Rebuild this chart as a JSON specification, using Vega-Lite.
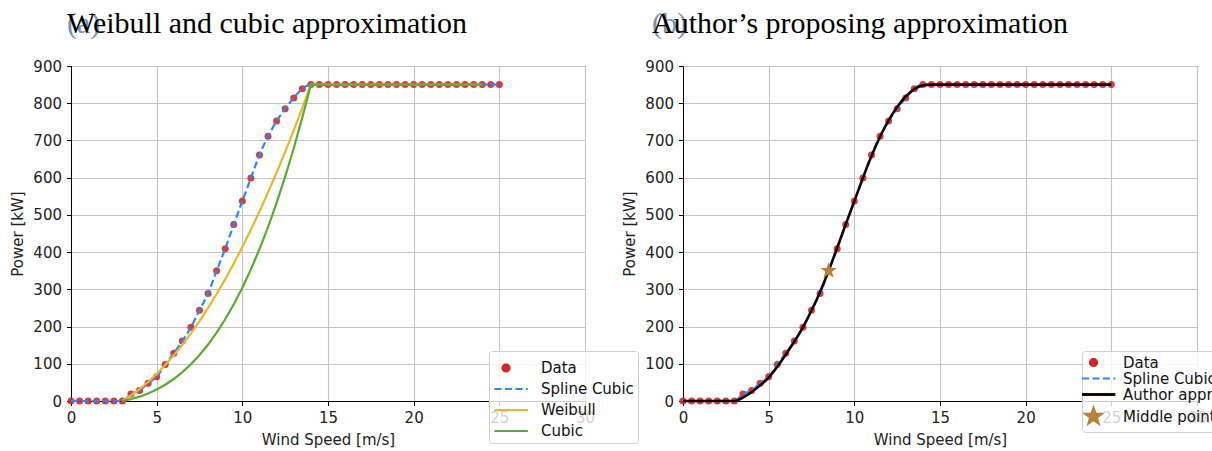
{
  "$schema": "https://vega.github.io/schema/vega-lite/v6.json",
  "background": "white",
  "padding": {"left": 10, "top": 8, "right": 5, "bottom": 5},
  "datasets": {
    "left": [
      {"s": "Data", "v": 0, "p": 0}, {"s": "Data", "v": 0.5, "p": 0}, {"s": "Data", "v": 1, "p": 0}, {"s": "Data", "v": 1.5, "p": 0}, {"s": "Data", "v": 2, "p": 0}, {"s": "Data", "v": 2.5, "p": 0}, {"s": "Data", "v": 3, "p": 0},
      {"s": "Data", "v": 3.5, "p": 19}, {"s": "Data", "v": 4, "p": 28}, {"s": "Data", "v": 4.5, "p": 48}, {"s": "Data", "v": 5, "p": 65}, {"s": "Data", "v": 5.5, "p": 98}, {"s": "Data", "v": 6, "p": 128},
      {"s": "Data", "v": 6.5, "p": 161}, {"s": "Data", "v": 7, "p": 198}, {"s": "Data", "v": 7.5, "p": 244}, {"s": "Data", "v": 8, "p": 289}, {"s": "Data", "v": 8.5, "p": 350}, {"s": "Data", "v": 9, "p": 409},
      {"s": "Data", "v": 9.5, "p": 474}, {"s": "Data", "v": 10, "p": 537}, {"s": "Data", "v": 10.5, "p": 599}, {"s": "Data", "v": 11, "p": 661}, {"s": "Data", "v": 11.5, "p": 711}, {"s": "Data", "v": 12, "p": 752},
      {"s": "Data", "v": 12.5, "p": 785}, {"s": "Data", "v": 13, "p": 814}, {"s": "Data", "v": 13.5, "p": 839}, {"s": "Data", "v": 14, "p": 850}, {"s": "Data", "v": 14.5, "p": 850}, {"s": "Data", "v": 15, "p": 850},
      {"s": "Data", "v": 15.5, "p": 850}, {"s": "Data", "v": 16, "p": 850}, {"s": "Data", "v": 16.5, "p": 850}, {"s": "Data", "v": 17, "p": 850}, {"s": "Data", "v": 17.5, "p": 850}, {"s": "Data", "v": 18, "p": 850},
      {"s": "Data", "v": 18.5, "p": 850}, {"s": "Data", "v": 19, "p": 850}, {"s": "Data", "v": 19.5, "p": 850}, {"s": "Data", "v": 20, "p": 850}, {"s": "Data", "v": 20.5, "p": 850}, {"s": "Data", "v": 21, "p": 850},
      {"s": "Data", "v": 21.5, "p": 850}, {"s": "Data", "v": 22, "p": 850}, {"s": "Data", "v": 22.5, "p": 850}, {"s": "Data", "v": 23, "p": 850}, {"s": "Data", "v": 23.5, "p": 850}, {"s": "Data", "v": 24, "p": 850},
      {"s": "Data", "v": 24.5, "p": 850}, {"s": "Data", "v": 25, "p": 850},
      {"s": "Spline Cubic", "v": 0, "p": 0}, {"s": "Spline Cubic", "v": 3, "p": 0}, {"s": "Spline Cubic", "v": 3.5, "p": 19}, {"s": "Spline Cubic", "v": 4, "p": 28}, {"s": "Spline Cubic", "v": 4.5, "p": 48}, {"s": "Spline Cubic", "v": 5, "p": 65},
      {"s": "Spline Cubic", "v": 5.5, "p": 98}, {"s": "Spline Cubic", "v": 6, "p": 128}, {"s": "Spline Cubic", "v": 6.5, "p": 161}, {"s": "Spline Cubic", "v": 7, "p": 198}, {"s": "Spline Cubic", "v": 7.5, "p": 244}, {"s": "Spline Cubic", "v": 8, "p": 289},
      {"s": "Spline Cubic", "v": 8.5, "p": 350}, {"s": "Spline Cubic", "v": 9, "p": 409}, {"s": "Spline Cubic", "v": 9.5, "p": 474}, {"s": "Spline Cubic", "v": 10, "p": 537}, {"s": "Spline Cubic", "v": 10.5, "p": 599}, {"s": "Spline Cubic", "v": 11, "p": 661},
      {"s": "Spline Cubic", "v": 11.5, "p": 711}, {"s": "Spline Cubic", "v": 12, "p": 752}, {"s": "Spline Cubic", "v": 12.5, "p": 785}, {"s": "Spline Cubic", "v": 13, "p": 814}, {"s": "Spline Cubic", "v": 13.5, "p": 839}, {"s": "Spline Cubic", "v": 14, "p": 850},
      {"s": "Spline Cubic", "v": 14.5, "p": 850}, {"s": "Spline Cubic", "v": 25, "p": 850},
      {"s": "Weibull", "v": 3, "p": 0}, {"s": "Weibull", "v": 3.5, "p": 14.8}, {"s": "Weibull", "v": 4, "p": 31.8}, {"s": "Weibull", "v": 4.5, "p": 51.1}, {"s": "Weibull", "v": 5, "p": 72.7}, {"s": "Weibull", "v": 5.5, "p": 96.6},
      {"s": "Weibull", "v": 6, "p": 122.7}, {"s": "Weibull", "v": 6.5, "p": 151.1}, {"s": "Weibull", "v": 7, "p": 181.8}, {"s": "Weibull", "v": 7.5, "p": 214.8}, {"s": "Weibull", "v": 8, "p": 250}, {"s": "Weibull", "v": 8.5, "p": 287.5},
      {"s": "Weibull", "v": 9, "p": 327.3}, {"s": "Weibull", "v": 9.5, "p": 369.3}, {"s": "Weibull", "v": 10, "p": 413.6}, {"s": "Weibull", "v": 10.5, "p": 460.2}, {"s": "Weibull", "v": 11, "p": 509.1}, {"s": "Weibull", "v": 11.5, "p": 560.2},
      {"s": "Weibull", "v": 12, "p": 613.6}, {"s": "Weibull", "v": 12.5, "p": 669.3}, {"s": "Weibull", "v": 13, "p": 727.3}, {"s": "Weibull", "v": 13.5, "p": 787.5}, {"s": "Weibull", "v": 14, "p": 850}, {"s": "Weibull", "v": 24, "p": 850},
      {"s": "Cubic", "v": 3, "p": 0}, {"s": "Cubic", "v": 3.5, "p": 5.0}, {"s": "Cubic", "v": 4, "p": 11.6}, {"s": "Cubic", "v": 4.5, "p": 20.1}, {"s": "Cubic", "v": 5, "p": 30.7}, {"s": "Cubic", "v": 5.5, "p": 43.6},
      {"s": "Cubic", "v": 6, "p": 59.1}, {"s": "Cubic", "v": 6.5, "p": 77.5}, {"s": "Cubic", "v": 7, "p": 98.9}, {"s": "Cubic", "v": 7.5, "p": 123.5}, {"s": "Cubic", "v": 8, "p": 151.7}, {"s": "Cubic", "v": 8.5, "p": 183.7},
      {"s": "Cubic", "v": 9, "p": 219.6}, {"s": "Cubic", "v": 9.5, "p": 259.8}, {"s": "Cubic", "v": 10, "p": 304.4}, {"s": "Cubic", "v": 10.5, "p": 353.7}, {"s": "Cubic", "v": 11, "p": 407.9}, {"s": "Cubic", "v": 11.5, "p": 467.3},
      {"s": "Cubic", "v": 12, "p": 532.1}, {"s": "Cubic", "v": 12.5, "p": 602.6}, {"s": "Cubic", "v": 13, "p": 678.9}, {"s": "Cubic", "v": 13.5, "p": 761.3}, {"s": "Cubic", "v": 14, "p": 850}, {"s": "Cubic", "v": 24, "p": 850}
    ],
    "right": [
      {"s": "Data", "v": 0, "p": 0}, {"s": "Data", "v": 0.5, "p": 0}, {"s": "Data", "v": 1, "p": 0}, {"s": "Data", "v": 1.5, "p": 0}, {"s": "Data", "v": 2, "p": 0}, {"s": "Data", "v": 2.5, "p": 0}, {"s": "Data", "v": 3, "p": 0},
      {"s": "Data", "v": 3.5, "p": 19}, {"s": "Data", "v": 4, "p": 28}, {"s": "Data", "v": 4.5, "p": 48}, {"s": "Data", "v": 5, "p": 65}, {"s": "Data", "v": 5.5, "p": 98}, {"s": "Data", "v": 6, "p": 128},
      {"s": "Data", "v": 6.5, "p": 161}, {"s": "Data", "v": 7, "p": 198}, {"s": "Data", "v": 7.5, "p": 244}, {"s": "Data", "v": 8, "p": 289}, {"s": "Data", "v": 8.5, "p": 350}, {"s": "Data", "v": 9, "p": 409},
      {"s": "Data", "v": 9.5, "p": 474}, {"s": "Data", "v": 10, "p": 537}, {"s": "Data", "v": 10.5, "p": 599}, {"s": "Data", "v": 11, "p": 661}, {"s": "Data", "v": 11.5, "p": 711}, {"s": "Data", "v": 12, "p": 752},
      {"s": "Data", "v": 12.5, "p": 785}, {"s": "Data", "v": 13, "p": 814}, {"s": "Data", "v": 13.5, "p": 839}, {"s": "Data", "v": 14, "p": 850}, {"s": "Data", "v": 14.5, "p": 850}, {"s": "Data", "v": 15, "p": 850},
      {"s": "Data", "v": 15.5, "p": 850}, {"s": "Data", "v": 16, "p": 850}, {"s": "Data", "v": 16.5, "p": 850}, {"s": "Data", "v": 17, "p": 850}, {"s": "Data", "v": 17.5, "p": 850}, {"s": "Data", "v": 18, "p": 850},
      {"s": "Data", "v": 18.5, "p": 850}, {"s": "Data", "v": 19, "p": 850}, {"s": "Data", "v": 19.5, "p": 850}, {"s": "Data", "v": 20, "p": 850}, {"s": "Data", "v": 20.5, "p": 850}, {"s": "Data", "v": 21, "p": 850},
      {"s": "Data", "v": 21.5, "p": 850}, {"s": "Data", "v": 22, "p": 850}, {"s": "Data", "v": 22.5, "p": 850}, {"s": "Data", "v": 23, "p": 850}, {"s": "Data", "v": 23.5, "p": 850}, {"s": "Data", "v": 24, "p": 850},
      {"s": "Data", "v": 24.5, "p": 850}, {"s": "Data", "v": 25, "p": 850},
      {"s": "Spline Cubic", "v": 0, "p": 0}, {"s": "Spline Cubic", "v": 3, "p": 0}, {"s": "Spline Cubic", "v": 3.5, "p": 19}, {"s": "Spline Cubic", "v": 4, "p": 28}, {"s": "Spline Cubic", "v": 4.5, "p": 48}, {"s": "Spline Cubic", "v": 5, "p": 65},
      {"s": "Spline Cubic", "v": 5.5, "p": 98}, {"s": "Spline Cubic", "v": 6, "p": 128}, {"s": "Spline Cubic", "v": 6.5, "p": 161}, {"s": "Spline Cubic", "v": 7, "p": 198}, {"s": "Spline Cubic", "v": 7.5, "p": 244}, {"s": "Spline Cubic", "v": 8, "p": 289},
      {"s": "Spline Cubic", "v": 8.5, "p": 350}, {"s": "Spline Cubic", "v": 9, "p": 409}, {"s": "Spline Cubic", "v": 9.5, "p": 474}, {"s": "Spline Cubic", "v": 10, "p": 537}, {"s": "Spline Cubic", "v": 10.5, "p": 599}, {"s": "Spline Cubic", "v": 11, "p": 661},
      {"s": "Spline Cubic", "v": 11.5, "p": 711}, {"s": "Spline Cubic", "v": 12, "p": 752}, {"s": "Spline Cubic", "v": 12.5, "p": 785}, {"s": "Spline Cubic", "v": 13, "p": 814}, {"s": "Spline Cubic", "v": 13.5, "p": 839}, {"s": "Spline Cubic", "v": 14, "p": 850},
      {"s": "Spline Cubic", "v": 14.5, "p": 850}, {"s": "Spline Cubic", "v": 25, "p": 850},
      {"s": "Author approx.", "v": 0, "p": 0}, {"s": "Author approx.", "v": 3, "p": 0}, {"s": "Author approx.", "v": 3.5, "p": 9}, {"s": "Author approx.", "v": 4, "p": 24}, {"s": "Author approx.", "v": 4.5, "p": 42}, {"s": "Author approx.", "v": 5, "p": 63},
      {"s": "Author approx.", "v": 5.5, "p": 92}, {"s": "Author approx.", "v": 6, "p": 125}, {"s": "Author approx.", "v": 6.5, "p": 160}, {"s": "Author approx.", "v": 7, "p": 198}, {"s": "Author approx.", "v": 7.5, "p": 243}, {"s": "Author approx.", "v": 8, "p": 293},
      {"s": "Author approx.", "v": 8.5, "p": 350}, {"s": "Author approx.", "v": 9, "p": 412}, {"s": "Author approx.", "v": 9.5, "p": 475}, {"s": "Author approx.", "v": 10, "p": 537}, {"s": "Author approx.", "v": 10.5, "p": 599}, {"s": "Author approx.", "v": 11, "p": 658},
      {"s": "Author approx.", "v": 11.5, "p": 710}, {"s": "Author approx.", "v": 12, "p": 754}, {"s": "Author approx.", "v": 12.5, "p": 790}, {"s": "Author approx.", "v": 13, "p": 818}, {"s": "Author approx.", "v": 13.5, "p": 838}, {"s": "Author approx.", "v": 14, "p": 848},
      {"s": "Author approx.", "v": 14.5, "p": 850}, {"s": "Author approx.", "v": 25, "p": 850},
      {"s": "Middle point", "v": 8.5, "p": 350}
    ]
  },
  "hconcat": [
    {
      "width": 514,
      "height": 335,
      "title": {"text": "(a)", "subtitle": "\u00a0\u00a0\u00a0\u00a0\u00a0\u200aWeibull and cubic approximation", "anchor": "start", "frame": "group", "dx": -4},
      "data": {"name": "left"},
      "layer": [
        {
          "transform": [{"filter": "datum.s === 'Data'"}],
          "mark": {"type": "point", "filled": true, "size": 49, "opacity": 0.9, "color": "#d62728"},
          "encoding": {
            "x": {"field": "v", "type": "quantitative", "scale": {"domain": [0, 30]}, "axis": {"tickCount": 6}, "title": "Wind Speed [m/s]"},
            "y": {"field": "p", "type": "quantitative", "scale": {"domain": [0, 900]}, "axis": {"tickCount": 10}, "title": "Power [kW]"}
          }
        },
        {
          "transform": [{"filter": "datum.s === 'Spline Cubic'"}],
          "mark": {"type": "line", "strokeDash": [7, 3.5], "strokeWidth": 2.2, "interpolate": "monotone"},
          "encoding": {
            "x": {"field": "v", "type": "quantitative"},
            "y": {"field": "p", "type": "quantitative"},
            "color": {
              "field": "s", "type": "nominal",
              "scale": {"domain": ["Data", "Spline Cubic", "Weibull", "Cubic"], "range": ["#d62728", "#2f86f5", "#e8b82a", "#5aab32"]},
              "legend": {
                "orient": "none", "legendX": 418, "legendY": 285, "direction": "vertical", "title": null, "padding": 4,
                "fillColor": "rgba(255,255,255,0.8)", "strokeColor": "#d0d0d0", "cornerRadius": 3,
                "labelFontSize": 15, "labelColor": "#111", "symbolSize": 529, "labelOffset": 22, "rowPadding": 0,
                "encode": {"symbols": {"update": {
                  "shape": {"signal": "datum.value === 'Data' ? 'circle' : 'M-1,0H1.9'"},
                  "size": {"signal": "datum.value === 'Data' ? 49 : 529"},
                  "fill": {"signal": "datum.value === 'Data' ? '#d62728' : 'transparent'"},
                  "stroke": {"signal": "datum.value === 'Data' ? 'transparent' : datum.value === 'Spline Cubic' ? '#2f86f5' : datum.value === 'Weibull' ? '#e8b82a' : '#5aab32'"},
                  "strokeDash": {"signal": "datum.value === 'Spline Cubic' ? [7, 3.5] : [1, 0]"},
                  "strokeWidth": {"value": 2.2},
                  "opacity": {"value": 1}
                }}}
              }
            }
          }
        },
        {
          "transform": [{"filter": "datum.s === 'Weibull' || datum.s === 'Cubic'"}],
          "mark": {"type": "line", "strokeWidth": 2.2},
          "encoding": {
            "x": {"field": "v", "type": "quantitative"},
            "y": {"field": "p", "type": "quantitative"},
            "color": {"field": "s", "type": "nominal"}
          }
        }
      ]
    },
    {
      "width": 514,
      "height": 335,
      "title": {"text": "(b)", "subtitle": "\u00a0\u00a0\u00a0\u00a0\u00a0\u200aAuthor’s proposing approximation", "anchor": "start", "frame": "group", "dx": -31},
      "data": {"name": "right"},
      "layer": [
        {
          "transform": [{"filter": "datum.s === 'Data'"}],
          "mark": {"type": "point", "filled": true, "size": 49, "opacity": 0.9, "color": "#d62728"},
          "encoding": {
            "x": {"field": "v", "type": "quantitative", "scale": {"domain": [0, 30]}, "axis": {"tickCount": 6}, "title": "Wind Speed [m/s]"},
            "y": {"field": "p", "type": "quantitative", "scale": {"domain": [0, 900]}, "axis": {"tickCount": 10}, "title": "Power [kW]"}
          }
        },
        {
          "transform": [{"filter": "datum.s === 'Spline Cubic'"}],
          "mark": {"type": "line", "strokeDash": [7, 3.5], "strokeWidth": 2.2, "interpolate": "monotone"},
          "encoding": {
            "x": {"field": "v", "type": "quantitative"},
            "y": {"field": "p", "type": "quantitative"},
            "stroke": {
              "field": "s", "type": "nominal",
              "scale": {"domain": ["Data", "Spline Cubic", "Author approx.", "Middle point"], "range": ["#d62728", "#2f86f5", "#1a0505", "#b8803e"]},
              "legend": {
                "orient": "none", "legendX": 1011, "legendY": 285, "direction": "vertical", "title": null, "padding": 4,
                "fillColor": "rgba(255,255,255,0.8)", "strokeColor": "#d0d0d0", "cornerRadius": 3,
                "labelFontSize": 15, "labelColor": "#111", "symbolSize": 529, "labelOffset": 22, "rowPadding": 0,
                "encode": {"symbols": {"update": {
                  "shape": {"signal": "datum.value === 'Data' ? 'circle' : datum.value === 'Middle point' ? 'M0,-1L0.235,-0.324L0.951,-0.309L0.38,0.124L0.588,0.809L0,0.4L-0.588,0.809L-0.38,0.124L-0.951,-0.309L-0.235,-0.324Z' : 'M-1,0H1.9'"},
                  "size": {"signal": "datum.value === 'Data' ? 49 : datum.value === 'Middle point' ? 300 : 529"},
                  "fill": {"signal": "datum.value === 'Data' ? '#d62728' : datum.value === 'Middle point' ? '#b8803e' : 'transparent'"},
                  "stroke": {"signal": "datum.value === 'Data' || datum.value === 'Middle point' ? 'transparent' : datum.value === 'Spline Cubic' ? '#2f86f5' : '#1a0505'"},
                  "strokeDash": {"signal": "datum.value === 'Spline Cubic' ? [7, 3.5] : [1, 0]"},
                  "strokeWidth": {"signal": "datum.value === 'Author approx.' ? 2.8 : 2.2"},
                  "opacity": {"value": 1}
                }}}
              }
            }
          }
        },
        {
          "transform": [{"filter": "datum.s === 'Author approx.'"}],
          "mark": {"type": "line", "strokeWidth": 2.6, "interpolate": "monotone"},
          "encoding": {
            "x": {"field": "v", "type": "quantitative"},
            "y": {"field": "p", "type": "quantitative"},
            "stroke": {"field": "s", "type": "nominal"}
          }
        },
        {
          "transform": [{"filter": "datum.s === 'Middle point'"}],
          "mark": {"type": "point", "shape": "M0,-1L0.235,-0.324L0.951,-0.309L0.38,0.124L0.588,0.809L0,0.4L-0.588,0.809L-0.38,0.124L-0.951,-0.309L-0.235,-0.324Z", "filled": true, "size": 300, "opacity": 1, "color": "#b8803e"},
          "encoding": {
            "x": {"field": "v", "type": "quantitative"},
            "y": {"field": "p", "type": "quantitative"}
          }
        }
      ]
    }
  ],
  "spacing": 26,
  "config": {
    "font": "DejaVu Sans",
    "view": {"stroke": "#000", "strokeWidth": 1},
    "axis": {
      "grid": true, "gridColor": "#c4c4c4", "gridWidth": 1.1, "labelFlush": false,
      "domainColor": "#000", "tickColor": "#000", "tickSize": 4.5,
      "labelFontSize": 15, "titleFontSize": 15, "labelColor": "#222", "titleColor": "#222",
      "titleFontWeight": "normal", "labelPadding": 5, "titlePadding": 7
    },
    "title": {
      "font": "Liberation Serif", "fontSize": 30, "fontWeight": "normal", "color": "#7594b2",
      "subtitleFont": "Liberation Serif", "subtitleFontSize": 30, "subtitleColor": "#000", "subtitlePadding": -30, "offset": 20
    }
  }
}
